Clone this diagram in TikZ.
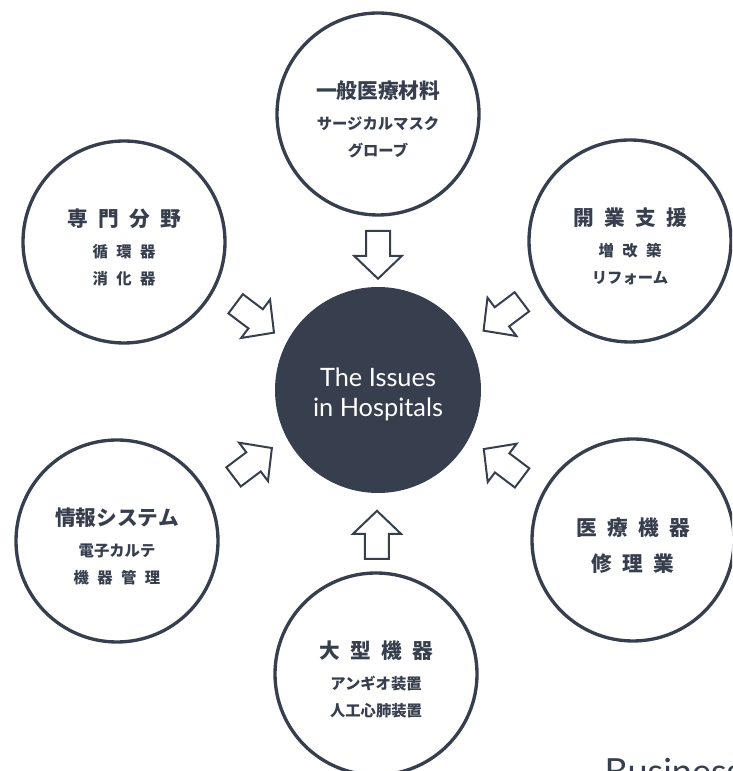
\documentclass[tikz,border=0pt]{standalone}
\usepackage{fontspec}
\usepackage{tikz}
\usetikzlibrary{calc,shapes}
\newfontfamily\jp{Noto Sans CJK JP}
\newfontfamily\lato{Lato}
\definecolor{slate}{HTML}{373F4E}
\newcommand{\tg}{\hspace{0.5em}}
\newcommand{\sg}{\hspace{0.55em}}
\newcommand{\ttl}[1]{{\fontsize{15.5}{20}\selectfont\rule{0pt}{21.5pt}#1}}

\tikzset{
  topic/.style={circle, draw=slate, line width=2.5pt, minimum size=151.5pt, inner sep=0pt,
    align=center, text=slate, font=\jp\bfseries\fontsize{11.5}{20.5}\selectfont},
  hub/.style={circle, fill=slate, minimum size=154.5pt, inner sep=0pt,
    align=center, text=white, font=\lato\fontsize{19}{22.5}\selectfont},
  blockarrow/.pic={
    \draw[slate, line width=1.5pt, fill=white, line join=miter]
      (-24,12) -- (1,12) -- (1,24) -- (24,0) -- (1,-24) -- (1,-12) -- (-24,-12) -- cycle;
  }
}

\begin{document}
\begin{tikzpicture}[x=0.75pt, y=0.75pt]

\useasboundingbox (0,0) rectangle (732,771);
\clip (0,0) rectangle (732,771);

% centre
\node[hub] (hub) at (378,381) {\rule{0pt}{20pt}The Issues\\in Hospitals};

% the six fields
\node[topic] (matl) at (378,657) {\ttl{一般医療材料}\\[3pt]サージカルマスク\\グローブ};

\node[topic] (spec) at (124,529) {\ttl{専\tg 門\tg 分\tg 野}\\[3pt]循\sg 環\sg 器\\消\sg 化\sg 器};

\node[topic] (open) at (630,530) {\ttl{開\tg 業\tg 支\tg 援}\\[3pt]増\sg 改\sg 築\\リフォーム};

\node[topic] (info) at (117,230) {\ttl{情報システム}\\[3pt]電子カルテ\\機\sg 器\sg 管\sg 理};

\node[topic] (large) at (376,97) {\ttl{大\tg 型\tg 機\tg 器}\\[3pt]アンギオ装置\\人工心肺装置};

\node[topic] (repair) at (633,231) {\ttl{医\tg 療\tg 機\tg 器}\\[7pt]{\fontsize{15.5}{20}\selectfont 修\tg 理\tg 業}};

% arrows into the centre
\pic[rotate=-90] at ($(matl)!0.51!(hub)$) {blockarrow};
\pic[rotate=-37] at ($(spec)!0.515!(hub)$) {blockarrow};
\pic[rotate=-143] at ($(open)!0.505!(hub)$) {blockarrow};
\pic[rotate=37] at ($(info)!0.52!(hub)$) {blockarrow};
\pic[rotate=143] at ($(repair)!0.51!(hub)$) {blockarrow};
\pic[rotate=90] at ($(large)!0.49!(hub)$) {blockarrow};

\node[anchor=base west, text=slate, font=\lato\fontsize{27}{30}\selectfont] (biz) at (600,-13) {Business};

\end{tikzpicture}
\end{document}
